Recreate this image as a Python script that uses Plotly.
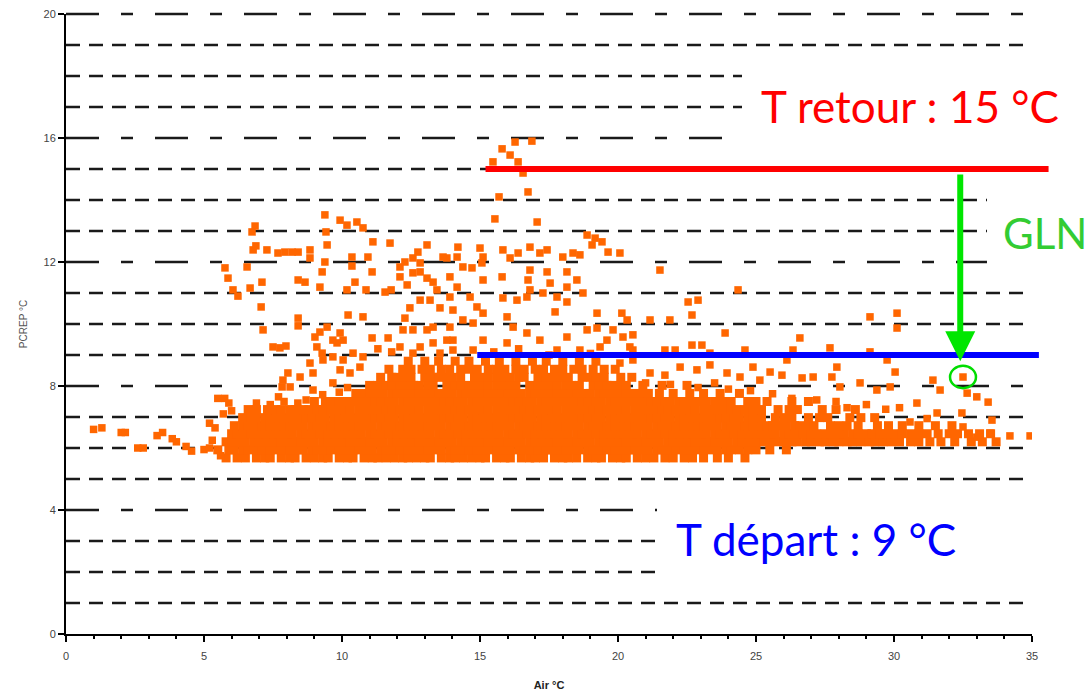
import plotly.graph_objects as go

# Axis extents (°C)
X_MAX = 35
Y_MAX = 20

X_TICKS = [0, 5, 10, 15, 20, 25, 30, 35]
Y_TICKS = [0, 4, 8, 12, 16, 20]

# Horizontal reference lines of the chart grid
Y_GRID_MAJOR = [4, 8, 12, 16, 20]
Y_GRID_MINOR = [1, 2, 3, 5, 6, 7, 9, 10, 11, 13, 14, 15, 17, 18, 19]

# Supply / return set points of the loop
T_RETOUR = 15
T_DEPART = 9

# Dense band of readings: air temperatures recorded at each PCREP level
band_568 = [5.8, 6.2, 6.5, 6.9, 7.2, 7.4, 7.8, 8.1, 8.3, 8.7, 9.0, 9.3, 9.5, 9.9, 10.2, 10.4, 10.8, 11.1,
            11.3, 11.6, 11.9, 12.2, 12.4, 12.7, 13.0, 13.2, 13.6, 13.9, 14.1, 14.4, 14.7, 15.0, 15.2, 15.6,
            15.9, 16.1, 16.5, 16.8, 17.0, 17.3, 17.7, 18.0, 18.2, 18.5, 18.9, 19.2, 19.4, 19.8, 20.1, 20.3,
            20.7, 21.0, 21.3, 21.7, 22.0, 22.4, 22.7, 23.1, 23.6, 24.0, 24.6]
band_594 = [5.5, 5.9, 6.1, 6.4, 6.6, 6.9, 7.1, 7.4, 7.6, 7.9, 8.1, 8.4, 8.6, 8.9, 9.1, 9.4, 9.6, 9.9, 10.1,
            10.4, 10.6, 10.9, 11.1, 11.4, 11.6, 11.9, 12.1, 12.4, 12.6, 12.9, 13.1, 13.4, 13.6, 13.9, 14.1,
            14.4, 14.6, 14.9, 15.1, 15.4, 15.6, 15.9, 16.1, 16.4, 16.6, 16.9, 17.1, 17.4, 17.6, 17.9, 18.1,
            18.4, 18.6, 18.9, 19.1, 19.4, 19.6, 19.9, 20.1, 20.4, 20.6, 20.9, 21.1, 21.4, 21.6, 21.9, 22.1,
            22.4, 22.6, 22.9, 23.1, 23.4, 23.6, 23.9, 24.1, 24.4, 24.7, 25.0, 25.5, 26.1]
band_620 = [5.8, 6.0, 6.3, 6.5, 6.8, 7.0, 7.3, 7.5, 7.8, 8.0, 8.3, 8.5, 8.8, 9.0, 9.3, 9.5, 9.8, 10.0, 10.3,
            10.5, 10.8, 11.0, 11.3, 11.5, 11.8, 12.0, 12.3, 12.5, 12.8, 13.0, 13.3, 13.5, 13.8, 14.0, 14.3,
            14.5, 14.8, 15.0, 15.3, 15.5, 15.8, 16.0, 16.3, 16.5, 16.8, 17.0, 17.3, 17.5, 17.8, 18.0, 18.3,
            18.5, 18.8, 19.0, 19.3, 19.5, 19.8, 20.0, 20.3, 20.5, 20.8, 21.0, 21.3, 21.5, 21.8, 22.0, 22.3,
            22.5, 22.8, 23.0, 23.3, 23.5, 23.8, 24.0, 24.3, 24.5, 24.8, 25.0, 25.3, 25.5, 25.8, 26.0, 26.3,
            26.5, 26.8, 27.0, 27.3, 27.5, 27.8, 28.0, 28.3, 28.5, 28.8, 29.1, 29.3, 29.6, 29.9, 30.2, 30.6,
            30.9, 31.3, 31.7, 32.2, 32.8, 33.2, 33.7]
band_646 = [6.0, 6.2, 6.5, 6.7, 7.0, 7.2, 7.5, 7.7, 8.0, 8.2, 8.5, 8.7, 9.0, 9.2, 9.5, 9.7, 10.0, 10.2, 10.5,
            10.7, 11.0, 11.2, 11.5, 11.7, 12.0, 12.2, 12.5, 12.7, 13.0, 13.2, 13.5, 13.7, 14.0, 14.2, 14.5,
            14.7, 15.0, 15.2, 15.5, 15.7, 16.0, 16.2, 16.5, 16.7, 17.0, 17.2, 17.5, 17.7, 18.0, 18.2, 18.5,
            18.7, 19.0, 19.2, 19.5, 19.7, 20.0, 20.2, 20.5, 20.7, 21.0, 21.2, 21.5, 21.7, 22.0, 22.2, 22.5,
            22.7, 23.0, 23.2, 23.5, 23.7, 24.0, 24.2, 24.5, 24.7, 25.0, 25.2, 25.5, 25.7, 26.0, 26.2, 26.5,
            26.7, 27.0, 27.2, 27.5, 27.7, 28.0, 28.2, 28.5, 28.7, 29.0, 29.2, 29.5, 29.7, 30.0, 30.3, 30.6,
            30.9, 31.2, 31.6, 32.0, 32.3, 32.7, 33.1, 33.5]
band_672 = [6.1, 6.4, 6.6, 6.9, 7.1, 7.4, 7.6, 7.9, 8.1, 8.4, 8.6, 8.9, 9.1, 9.4, 9.6, 9.9, 10.1, 10.4, 10.6,
            10.9, 11.1, 11.4, 11.6, 11.9, 12.1, 12.4, 12.6, 12.9, 13.1, 13.4, 13.6, 13.9, 14.1, 14.4, 14.6,
            14.9, 15.1, 15.4, 15.6, 15.9, 16.1, 16.4, 16.6, 16.9, 17.1, 17.4, 17.6, 17.9, 18.1, 18.4, 18.6,
            18.9, 19.1, 19.4, 19.6, 19.9, 20.1, 20.4, 20.6, 20.9, 21.1, 21.4, 21.6, 21.9, 22.1, 22.4, 22.6,
            22.9, 23.1, 23.4, 23.6, 23.9, 24.1, 24.4, 24.6, 24.9, 25.1, 25.4, 25.6, 25.9, 26.1, 26.4, 26.6,
            26.9, 27.1, 27.7, 28.0, 28.3, 28.7, 29.4, 29.8, 30.3, 30.9, 31.5, 32.1]
band_698 = [6.4, 6.7, 6.9, 7.2, 7.4, 7.7, 7.9, 8.2, 8.4, 8.7, 8.9, 9.2, 9.4, 9.7, 9.9, 10.2, 10.4, 10.7, 10.9,
            11.2, 11.4, 11.7, 11.9, 12.2, 12.4, 12.7, 12.9, 13.2, 13.4, 13.7, 13.9, 14.2, 14.4, 14.7, 14.9,
            15.2, 15.4, 15.7, 15.9, 16.2, 16.4, 16.7, 16.9, 17.2, 17.4, 17.7, 17.9, 18.2, 18.4, 18.7, 18.9,
            19.2, 19.4, 19.7, 19.9, 20.2, 20.4, 20.7, 20.9, 21.2, 21.4, 21.7, 21.9, 22.2, 22.4, 22.7, 22.9,
            23.2, 23.4, 23.7, 23.9, 24.2, 24.4, 24.7, 24.9, 25.2, 25.7, 26.0, 26.3, 26.9, 27.3,
            27.6, 28.4, 28.8, 29.3]
band_724 = [6.6, 6.9, 7.3, 7.6, 7.8, 8.1, 8.3, 8.6, 8.8, 9.1, 9.3, 9.6, 9.8, 10.1, 10.3, 10.6, 10.8, 11.1,
            11.3, 11.6, 11.8, 12.1, 12.3, 12.6, 12.8, 13.1, 13.3, 13.6, 13.8, 14.1, 14.3, 14.6, 14.8, 15.1,
            15.3, 15.6, 15.8, 16.1, 16.3, 16.6, 16.8, 17.1, 17.3, 17.6, 17.8, 18.1, 18.3, 18.6, 18.8, 19.1,
            19.3, 19.6, 19.8, 20.1, 20.3, 20.6, 20.8, 21.1, 21.3, 21.6, 21.8, 22.1, 22.3, 22.6, 22.8, 23.1,
            23.3, 23.6, 23.8, 24.1, 24.3, 24.6, 24.9, 25.2, 25.8, 26.2, 26.5, 27.4, 27.9, 28.6]
band_750 = [9.0, 9.4, 9.6, 9.9, 10.2, 10.4, 10.7, 10.9, 11.2, 11.4, 11.7, 11.9, 12.2,
            12.4, 12.7, 12.9, 13.2, 13.4, 13.7, 13.9, 14.2, 14.4, 14.7, 14.9, 15.2, 15.4, 15.7, 15.9, 16.2,
            16.4, 16.7, 16.9, 17.2, 17.4, 17.7, 17.9, 18.2, 18.4, 18.7, 18.9, 19.2, 19.4, 19.7, 19.9, 20.2,
            20.4, 20.7, 20.9, 21.2, 21.4, 21.7, 21.9, 22.2, 22.4, 22.7, 22.9, 23.2, 23.5, 23.8, 24.1,
            24.7, 25.0, 25.4, 26.3, 26.9]
band_776 = [10.5, 10.8, 11.0, 11.3, 11.5, 11.8, 12.0, 12.3, 12.5, 12.8, 13.0, 13.3, 13.5, 13.8, 14.0, 14.3,
            14.5, 14.8, 15.0, 15.3, 15.5, 15.8, 16.0, 16.3, 16.5, 16.8, 17.0, 17.3, 17.5, 17.8, 18.0, 18.3,
            18.5, 18.8, 19.0, 19.3, 19.5, 19.8, 20.0, 20.3, 20.5, 20.8, 21.1, 21.5, 22.0, 22.6, 23.1, 23.7,
            24.4]
band_802 = [11.0, 11.3, 11.6, 11.8, 12.1, 12.3, 12.6, 12.8, 13.1, 13.3, 13.8, 14.1, 14.3, 14.6, 14.8,
            15.1, 15.3, 15.6, 15.8, 16.1, 16.3, 16.8, 17.1, 17.3, 17.6, 17.8, 18.1, 18.3, 18.6,
            19.1, 19.3, 19.6, 19.8, 20.1, 20.3, 20.9, 21.6, 22.5]
band_828 = [11.4, 11.8, 12.0, 12.3, 12.5, 13.0, 13.3, 13.5, 13.8, 14.0, 14.3, 14.8, 15.1, 15.3,
            15.6, 15.9, 16.1, 16.4, 16.6, 17.1, 17.4, 17.7, 17.9, 18.2, 18.7, 19.0, 19.2, 19.5,
            20.1, 20.5]
band_854 = [11.7, 12.2, 12.5, 12.9, 13.2, 13.6, 13.9, 14.3, 14.6, 14.9, 15.3, 15.6, 15.9, 16.3, 16.6, 17.0,
            17.3, 17.7, 18.0, 18.4, 18.7, 19.1, 19.5, 19.9]
band_880 = [12.4, 13.0, 13.5, 14.1, 14.6, 15.2, 15.7, 16.3, 16.9, 17.4, 18.0, 18.6, 19.2]

BAND_LEVELS = [5.68, 5.94, 6.20, 6.46, 6.72, 6.98, 7.24, 7.50, 7.76, 8.02, 8.28, 8.54, 8.80]
BAND_ROWS = [band_568, band_594, band_620, band_646, band_672, band_698, band_724,
             band_750, band_776, band_802, band_828, band_854, band_880]

# Isolated readings (air °C, PCREP °C)
cold_pts = [(1.0, 6.6), (1.3, 6.65), (2.0, 6.5), (2.15, 6.5), (2.6, 6.0), (2.8, 6.0), (3.3, 6.4),
            (3.5, 6.5), (3.85, 6.3), (4.0, 6.2), (4.35, 6.05), (4.55, 5.9), (5.0, 5.95), (5.2, 6.0),
            (5.3, 6.25), (5.4, 6.65), (5.2, 6.8), (5.6, 5.75), (5.5, 7.6), (5.75, 7.6), (5.9, 7.45),
            (6.0, 7.2), (5.7, 7.1)]

# Readings scattered along the upper edge of the dense band
edge_pts = [(6.9, 7.45), (7.4, 7.4), (7.9, 7.5), (8.4, 7.45), (8.7, 7.55), (7.7, 7.65), (9.3, 7.72),
            (9.9, 7.8), (10.2, 7.95), (21.0, 8.1), (21.9, 8.05), (22.9, 7.95), (23.5, 8.1), (24.0, 7.9),
            (24.8, 7.85), (25.6, 7.75), (26.3, 7.6), (27.2, 7.55), (27.9, 7.5), (28.3, 7.3),
            (29.0, 7.4), (29.7, 7.25)]

upper_pts = [
    (5.76, 11.81), (5.87, 11.48), (6.05, 11.10), (6.23, 10.90), (6.56, 11.84), (6.67, 11.16),
    (6.78, 12.39), (6.88, 12.52), (6.85, 13.16), (6.74, 12.97), (7.10, 11.35), (7.07, 10.55),
    (7.14, 9.81), (7.28, 12.39), (7.68, 12.29), (7.93, 12.32), (8.19, 12.32), (8.41, 12.32),
    (7.75, 9.23), (7.97, 9.29), (8.41, 11.42), (8.66, 11.35), (8.41, 10.19), (8.41, 9.94),
    (7.50, 9.26), (8.04, 8.42), (7.86, 8.19), (8.48, 8.29), (7.83, 7.97), (8.12, 7.97),
    (8.84, 12.39), (8.84, 12.13), (9.20, 11.19), (9.28, 11.68), (9.38, 13.52), (9.46, 12.55),
    (9.42, 12.97), (9.38, 12.0), (9.46, 9.90), (9.67, 9.48), (9.93, 13.35), (10.18, 13.19),
    (10.04, 9.48), (10.18, 11.10), (10.22, 10.29), (10.36, 12.16), (10.36, 11.87), (10.47, 11.35),
    (10.54, 13.29), (10.76, 13.10), (10.76, 10.23), (10.87, 11.10), (10.94, 12.16), (11.09, 11.68),
    (11.12, 12.65), (11.56, 11.03), (11.78, 11.10), (11.74, 12.61), (11.67, 9.55), (11.09, 9.55),
    (9.02, 9.58), (9.20, 9.74), (9.82, 9.39), (9.93, 9.71), (9.09, 9.26), (9.28, 9.06),
    (8.84, 8.74), (8.95, 8.42), (9.31, 8.84), (9.67, 8.94), (10.04, 8.84), (10.40, 9.06),
    (9.93, 8.52), (10.29, 8.42), (10.65, 8.61), (10.76, 8.94), (8.95, 7.87), (9.67, 8.10),
    (11.3, 9.2), (11.8, 9.1),
    (12.10, 9.26), (12.21, 9.81), (12.57, 9.06), (12.83, 9.26), (13.30, 9.39), (13.55, 9.06),
    (14.02, 9.48), (12.10, 11.84), (12.28, 12.0), (12.57, 12.13), (12.75, 12.32), (13.08, 12.55),
    (12.83, 11.97), (12.57, 11.65), (12.10, 11.52), (12.36, 11.26), (12.83, 11.68), (13.08, 11.48),
    (13.30, 11.35), (13.44, 11.10), (13.19, 10.77), (13.55, 10.52), (12.83, 10.77), (12.46, 10.52),
    (12.28, 10.19), (13.91, 11.52), (14.17, 11.19), (13.80, 12.13), (14.17, 12.16), (12.57, 9.81),
    (13.08, 9.81), (13.30, 9.90),
    (14.20, 12.48), (15.0, 12.45), (15.83, 12.39), (16.81, 12.48), (13.66, 12.16), (15.11, 12.16),
    (16.09, 12.13), (16.38, 12.29), (17.17, 12.29), (17.43, 12.39), (18.0, 12.16), (18.37, 12.29),
    (18.62, 12.23), (18.88, 12.87), (19.17, 12.77), (19.42, 12.65), (19.64, 12.32), (20.07, 12.29),
    (19.06, 12.55), (14.38, 11.84), (14.71, 11.81), (15.07, 11.97), (16.81, 11.74), (17.43, 11.68),
    (18.15, 11.68), (15.11, 11.42), (15.80, 11.52), (16.74, 11.42), (17.54, 11.32), (18.15, 11.19),
    (18.51, 11.42), (16.81, 11.10), (17.28, 11.0), (17.79, 10.87), (13.91, 10.87), (14.64, 10.87),
    (14.89, 10.55), (15.83, 10.84), (16.34, 10.77), (16.70, 10.87), (18.15, 10.71), (18.73, 11.0),
    (17.72, 10.39), (19.24, 10.35), (20.14, 10.35), (14.02, 10.45), (14.38, 10.13), (15.11, 10.35),
    (15.98, 10.23), (16.20, 9.90), (14.75, 10.03), (13.91, 9.90), (13.80, 9.48), (15.11, 9.48),
    (15.98, 9.39), (16.70, 9.71), (17.17, 9.48), (18.15, 9.58), (18.88, 9.81), (19.24, 9.87),
    (19.82, 9.81), (20.18, 9.58), (20.33, 10.13), (19.35, 9.26), (18.62, 9.16), (17.79, 9.16),
    (14.75, 9.16), (14.02, 9.16), (20.54, 9.16), (15.5, 9.1), (16.4, 9.2), (17.5, 9.0), (19.0, 9.05),
    (15.47, 15.23), (15.80, 15.65), (16.09, 15.45), (16.27, 15.87), (16.38, 15.23), (16.56, 14.87),
    (16.74, 14.26), (16.88, 15.90), (15.69, 14.10), (15.54, 13.39), (17.07, 13.29),
    (21.52, 11.74), (24.35, 11.10), (22.54, 10.71), (22.90, 10.77), (22.68, 10.29), (21.16, 10.13),
    (21.88, 10.13), (20.54, 9.65), (23.88, 9.71), (19.6, 9.48), (20.43, 9.26), (21.70, 9.16),
    (22.07, 9.16), (22.68, 9.32), (23.04, 9.32), (24.60, 9.16), (20.07, 8.74), (20.54, 8.84),
    (22.25, 8.61), (22.86, 8.52), (23.33, 8.68), (23.33, 9.06), (24.89, 8.61), (25.14, 8.19),
    (21.16, 8.42), (21.70, 8.35), (23.95, 8.42), (24.42, 8.29),
    (26.59, 9.55), (29.13, 10.23), (30.11, 10.35), (30.11, 9.87), (26.34, 9.16), (27.68, 9.23),
    (29.13, 9.10), (29.75, 8.84), (25.51, 8.45), (25.94, 8.35), (26.67, 8.26), (30.04, 8.45),
    (27.93, 8.61), (26.12, 8.84), (28.04, 7.97), (28.77, 8.10), (29.38, 7.87), (29.86, 7.97),
    (27.75, 8.29), (27.07, 8.29),
]

warm_pts = [(31.41, 8.19), (32.50, 8.29), (31.67, 7.87), (32.65, 7.77), (33.0, 7.65), (33.41, 7.48),
            (32.46, 7.13), (31.56, 7.13), (33.55, 6.90), (33.0, 6.35), (32.50, 6.68), (30.83, 7.45),
            (30.58, 6.84), (34.2, 6.39), (34.93, 6.39), (33.48, 6.48), (30.2, 7.3), (31.2, 6.95)]

# Reading singled out by the GLN arrow
GLN_AIR, GLN_PCREP = 32.50, 8.29

band_air, band_pcrep = [], []
for level, row in zip(BAND_LEVELS, BAND_ROWS):
    band_air += row
    band_pcrep += [level] * len(row)

iso_air, iso_pcrep = [], []
for group in (cold_pts, edge_pts, upper_pts, warm_pts):
    for a, p in group:
        iso_air.append(a)
        iso_pcrep.append(p)

ORANGE = "#ff6600"
INK = "#1a1a1a"
TEXT_FONT = "Lato, 'Open Sans', sans-serif"
AXIS_FONT = "'Liberation Sans', Arial, sans-serif"


def px(v):
    return v / X_MAX


def py(v):
    return v / Y_MAX


fig = go.Figure()
fig.add_trace(go.Scatter(x=band_air, y=band_pcrep, mode="markers", hoverinfo="skip",
                         marker=dict(symbol="square", size=9, color=ORANGE, line=dict(width=0))))
fig.add_trace(go.Scatter(x=iso_air, y=iso_pcrep, mode="markers", hoverinfo="skip",
                         marker=dict(symbol="square", size=7.5, color=ORANGE, line=dict(width=0))))

shapes = []
# dashed grid: dash-dot pattern on labelled levels, short dashes in between
for v in Y_GRID_MAJOR:
    shapes.append(dict(type="line", xref="paper", yref="paper", x0=0, x1=1, y0=py(v), y1=py(v),
                       line=dict(color=INK, width=2.5, dash="33px,22px,12px,22px"), layer="below"))
for v in Y_GRID_MINOR:
    shapes.append(dict(type="line", xref="paper", yref="paper", x0=0, x1=1, y0=py(v), y1=py(v),
                       line=dict(color=INK, width=2.5, dash="14px,9px"), layer="below"))

shapes += [
    # white panels behind the captions
    dict(type="rect", xref="paper", yref="paper", x0=0.6998, x1=1.07, y0=0.7726, y1=0.9323,
         fillcolor="white", line=dict(width=0), layer="above"),
    dict(type="rect", xref="paper", yref="paper", x0=0.6118, x1=1.07, y0=0.0710, y1=0.2290,
         fillcolor="white", line=dict(width=0), layer="above"),
    dict(type="rect", xref="paper", yref="paper", x0=0.9534, x1=1.07, y0=0.5742, y1=0.7242,
         fillcolor="white", line=dict(width=0), layer="above"),
    # return and supply temperature levels
    dict(type="line", xref="paper", yref="paper", x0=px(15.2), x1=px(35.6), y0=py(T_RETOUR), y1=py(T_RETOUR),
         line=dict(color="#ff0000", width=6), layer="above"),
    dict(type="line", xref="paper", yref="paper", x0=px(14.9), x1=px(35.25), y0=py(T_DEPART), y1=py(T_DEPART),
         line=dict(color="#0000ff", width=6), layer="above"),
    # ring around the flagged reading
    dict(type="circle", xref="x", yref="y", x0=GLN_AIR - 0.47, x1=GLN_AIR + 0.47,
         y0=GLN_PCREP - 0.36, y1=GLN_PCREP + 0.36, line=dict(color="#00dd00", width=2.5), layer="above"),
]

annotations = [
    dict(text="T retour : 15 °C", xref="paper", yref="paper", x=0.8737, y=0.8516, showarrow=False,
         xanchor="center", yanchor="middle", font=dict(family=TEXT_FONT, size=44, color="#ff0000")),
    dict(text="T départ : 9 °C", xref="paper", yref="paper", x=0.7764, y=0.1530, showarrow=False,
         xanchor="center", yanchor="middle", font=dict(family=TEXT_FONT, size=44, color="#0000ff")),
    dict(text="GLN", xref="paper", yref="paper", x=1.0135, y=0.6468, showarrow=False,
         xanchor="center", yanchor="middle", font=dict(family=TEXT_FONT, size=42, color="#33cc33")),
    dict(text="", x=32.4, y=8.8, ax=32.4, ay=14.87, xref="x", yref="y", axref="x", ayref="y",
         showarrow=True, arrowhead=2, arrowsize=1, arrowwidth=6, arrowcolor="#00e600", standoff=0),
]

fig.update_layout(
    width=1090, height=696,
    margin=dict(l=66, r=58, t=14, b=62),
    plot_bgcolor="white", paper_bgcolor="white",
    showlegend=False,
    shapes=shapes,
    annotations=annotations,
    font=dict(family=AXIS_FONT, color="#444444"),
)

fig.update_xaxes(
    range=[0, X_MAX], tickmode="array", tickvals=X_TICKS, ticktext=[str(v) for v in X_TICKS],
    showgrid=False, zeroline=False, automargin=False,
    showline=True, linecolor="black", linewidth=2,
    ticks="outside", ticklen=6, tickwidth=1.5, tickcolor="black",
    minor=dict(dtick=1, ticks="outside", ticklen=3, tickwidth=1.5, tickcolor="black", showgrid=False),
    tickfont=dict(size=11, color="#444444"), ticklabelstandoff=5,
    title=dict(text="Air °C", font=dict(size=11, color="#222222", weight="bold"), standoff=20),
)

fig.update_yaxes(
    range=[0, Y_MAX], tickmode="array", tickvals=Y_TICKS, ticktext=[str(v) for v in Y_TICKS],
    zeroline=False, showgrid=False, automargin=False,
    showline=True, linecolor="black", linewidth=2,
    ticks="outside", ticklen=6, tickwidth=1.5, tickcolor="black",
    tickfont=dict(size=11, color="#444444"),
    title=dict(text="PCREP °C", font=dict(size=10, color="#555555"), standoff=14),
)

fig.write_html("out.html")
